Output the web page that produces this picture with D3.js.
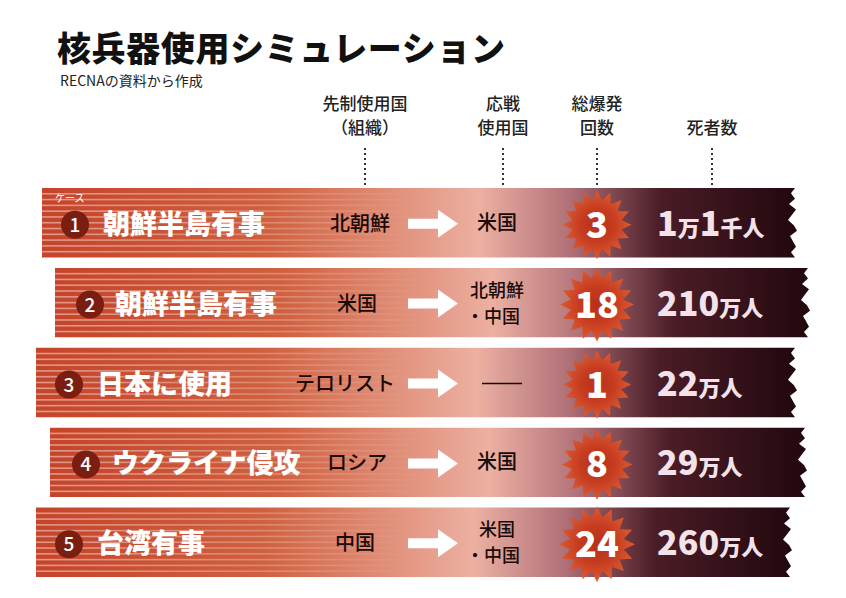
<!DOCTYPE html>
<html><head><meta charset="utf-8">
<script src="https://cdn.jsdelivr.net/npm/d3@7"></script>
<style>body{margin:0;background:#fff}text{font-family:"Noto Sans CJK JP",sans-serif}</style>
</head><body><div id="vis"></div>
<script>
const caseNos = [1, 2, 3, 4, 5];
const caseNames = ["朝鮮半島有事", "朝鮮半島有事", "日本に使用", "ウクライナ侵攻", "台湾有事"];
const firstUsers = ["北朝鮮", "米国", "テロリスト", "ロシア", "中国"];
const responders = [["米国"], ["北朝鮮", "・中国"], ["—"], ["米国"], ["米国", "・中国"]];
const blasts = [3, 18, 1, 8, 24];
const deaths = ["1万1千人", "210万人", "22万人", "29万人", "260万人"];
const headers = [["先制使用国", "（組織）"], ["応戦", "使用国"], ["総爆発", "回数"], ["死者数"]];

const W = 846, H = 598;
const barLeft = [42, 55, 36, 50, 36], barRight = [795, 808, 795, 805, 790];
const nameX = [103, 115, 97, 112, 97], circX = [75, 90, 69, 86, 69];
const firstX = [360, 357, 345, 357, 355];

const svg = d3.select("#vis").append("svg").attr("width", W).attr("height", H);

// title
svg.append("text").attr("x", 57).attr("y", 61).attr("font-size", 34).attr("font-weight", 900)
  .attr("fill", "#111").attr("textLength", 448).text("核兵器使用シミュレーション");
svg.append("text").attr("x", 60).attr("y", 86).attr("font-size", 14).attr("fill", "#222")
  .text("RECNAの資料から作成");

const colX = [365, 503, 597, 712];
headers.forEach((h, i) => {
  const n = h.length;
  h.forEach((t, j) => svg.append("text").attr("x", colX[i]).attr("y", 134 - (n - 1 - j) * 24)
    .attr("text-anchor", "middle").attr("font-size", 17).attr("font-weight", 500).attr("fill", "#222").text(t));
  svg.append("line").attr("x1", colX[i]).attr("x2", colX[i]).attr("y1", 148).attr("y2", 186)
    .attr("stroke", "#333").attr("stroke-width", 2).attr("stroke-dasharray", "2,3");
});

const y = d3.scaleBand().domain(caseNos).range([188, 577]).paddingInner(0.13);
const burstR = d3.scaleLinear().domain([0, 24]).range([34, 38]);

const defs = svg.append("defs");
const grad = defs.append("linearGradient").attr("id", "g").attr("x1", 0).attr("x2", 1);
[[0, "#c5442a"], [0.3, "#d0603f"], [0.58, "#ecb0a2"], [0.7, "#b07078"], [0.82, "#4a1c26"], [1, "#22080e"]]
  .forEach(s => grad.append("stop").attr("offset", s[0]).attr("stop-color", s[1]));
const sg = defs.append("linearGradient").attr("id", "sg").attr("x1", 0).attr("x2", 1);
[[0, 0.45], [0.35, 0.25], [0.55, 0]].forEach(s => sg.append("stop").attr("offset", s[0])
  .attr("stop-color", "#fff").attr("stop-opacity", s[1]));
const rg = defs.append("radialGradient").attr("id", "rg");
[[0, "#b8301a"], [0.5, "#c63c20"], [1, "#dc5a32"]].forEach(s => rg.append("stop")
  .attr("offset", s[0]).attr("stop-color", s[1]));

const jag = [0, 4, -2, 5, 1, -3, 3, 6, -1, 2, 5, 0];

caseNos.forEach((c, i) => {
  const g = svg.append("g");
  const y0 = y(c), h = y.bandwidth(), x0 = barLeft[i], x1 = barRight[i];
  const pts = [[x0, y0], [x1, y0]];
  jag.forEach((d, k) => pts.push([x1 - 4 + d, y0 + h * (k + 1) / (jag.length + 1)]));
  pts.push([x1, y0 + h], [x0, y0 + h]);
  g.append("polygon").attr("points", pts.map(p => p.join(",")).join(" ")).attr("fill", "url(#g)");
  for (let k = 1; k < 12; k++) {
    g.append("rect").attr("x", x0).attr("y", y0 + k * h / 12 - 0.8).attr("width", (x1 - x0) * 0.9)
      .attr("height", 1.6).attr("fill", "url(#sg)");
  }
  const cy = y0 + h / 2;
  g.append("circle").attr("cx", circX[i]).attr("cy", cy + 2).attr("r", 14).attr("fill", "#7a1e12");
  g.append("text").attr("x", circX[i]).attr("y", cy + 9).attr("text-anchor", "middle")
    .attr("font-size", 19).attr("font-weight", 500).attr("fill", "#fff").text(c);
  if (i === 0) g.append("text").attr("x", 55).attr("y", y0 + 14).attr("font-size", 10)
    .attr("fill", "#fff").text("ケース");
  g.append("text").attr("x", nameX[i]).attr("y", cy + 11).attr("font-size", 27).attr("font-weight", 900)
    .attr("fill", "#fff").text(caseNames[i]);
  g.append("text").attr("x", firstX[i]).attr("y", cy + 8).attr("text-anchor", "middle")
    .attr("font-size", 20).attr("font-weight", 500).attr("fill", "#1a0a08").text(firstUsers[i]);
  // arrow
  const ax = 408;
  g.append("path").attr("d", `M${ax},${cy - 4}H${ax + 30}V${cy - 13}L${ax + 50},${cy + 1}L${ax + 30},${cy + 15}V${cy + 6}H${ax}Z`)
    .attr("fill", "#fff");
  const r = responders[i];
  if (r[0] === "—") {
    g.append("line").attr("x1", 482).attr("x2", 522).attr("y1", cy + 1).attr("y2", cy + 1)
      .attr("stroke", "#1a0a08").attr("stroke-width", 1.5);
  } else {
    const fs = r.length > 1 ? 18 : 20;
    r.forEach((t, j) => g.append("text").attr("x", t.startsWith("・") ? 493 : 497)
      .attr("y", cy + 7 + (j - (r.length - 1) / 2) * 26).attr("text-anchor", "middle")
      .attr("font-size", fs).attr("font-weight", 500).attr("fill", "#1a0a08").text(t));
  }
  // burst
  const R = burstR(blasts[i]), n = 16;
  const bp = d3.range(n * 2).map(k => {
    const a = k * Math.PI / n - Math.PI / 2, rr = k % 2 ? R * 0.72 : R;
    return [597 + rr * Math.cos(a), cy + 2 + rr * Math.sin(a)];
  });
  g.append("polygon").attr("points", bp.map(p => p.join(",")).join(" ")).attr("fill", "url(#rg)");
  g.append("text").attr("x", 597).attr("y", cy + 15).attr("text-anchor", "middle")
    .attr("font-size", 36).attr("font-weight", 900).attr("fill", "#fff").text(blasts[i]);
  // deaths
  const t = g.append("text").attr("x", 657).attr("y", cy + 13).attr("fill", "#f3e2ea").attr("font-weight", 900);
  deaths[i].match(/\d+|\D+/g).forEach(s => t.append("tspan")
    .attr("font-size", /\d/.test(s) ? 34 : 22).text(s));
});
</script></body></html>
